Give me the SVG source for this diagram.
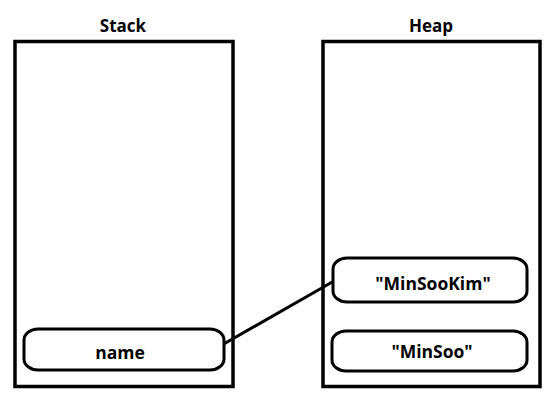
<svg xmlns="http://www.w3.org/2000/svg" width="558" height="408" viewBox="0 0 558 408">
<style>
.box{fill:none;stroke:#000;stroke-width:3.5}
.pill{fill:#fff;stroke:#000;stroke-width:3}
.t{font-family:"Open Sans","Noto Sans","Liberation Sans",sans-serif;font-weight:bold;fill:#000;text-anchor:middle}
.title{font-size:17px}
.lbl{font-size:17.5px}
.conn{stroke:#000;stroke-width:3;fill:none}
</style>
<rect width="558" height="408" fill="#fff"/>
<g id="stack">
<rect class="box" x="15" y="41.5" width="218" height="345"/>
<text class="t title" x="123" y="32">Stack</text>
</g>
<g id="heap">
<rect class="box" x="323" y="41.5" width="217" height="345"/>
<text class="t title" x="431" y="32">Heap</text>
</g>
<g id="connectors">
<line class="conn" x1="222" y1="345" x2="334" y2="281"/>
</g>
<g id="name">
<rect class="pill" x="24" y="329" width="200" height="41" rx="14" ry="11"/>
<text class="t lbl" x="120" y="359">name</text>
</g>
<g id="minsookim">
<rect class="pill" x="333" y="258" width="194" height="44" rx="14" ry="11"/>
<text class="t lbl" x="433" y="290">"MinSooKim"</text>
</g>
<g id="minsoo">
<rect class="pill" x="332" y="331" width="195" height="40" rx="14" ry="11"/>
<text class="t lbl" x="432" y="358">"MinSoo"</text>
</g>
</svg>
